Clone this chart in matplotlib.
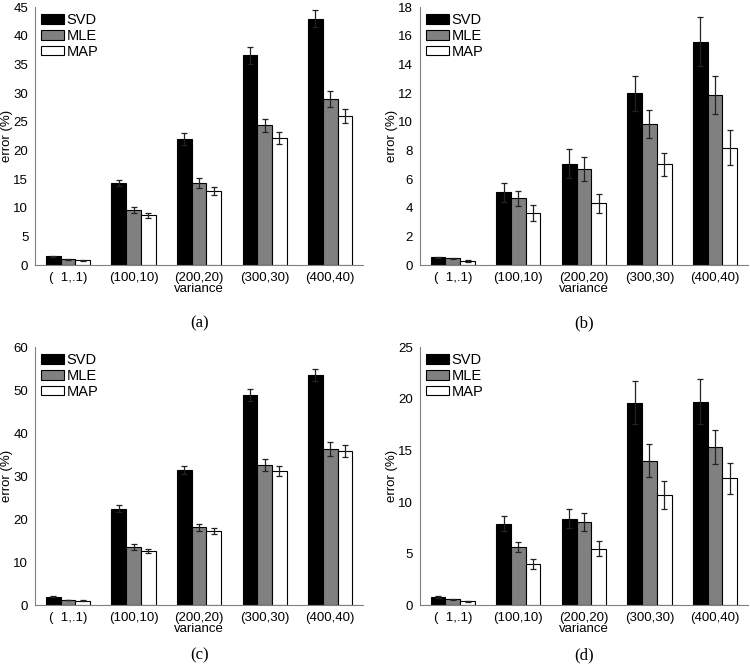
import numpy as np
import matplotlib.pyplot as plt

plt.rcParams['font.family'] = ['Liberation Sans', 'DejaVu Sans']

categories = ['(  1,.1)', '(100,10)', '(200,20)', '(300,30)', '(400,40)']
methods = ['SVD', 'MLE', 'MAP']

# panel (a)
a_svd = [1.57, 14.3, 22.0, 36.6, 43.0]
a_mle = [1.05, 9.6, 14.4, 24.4, 29.0]
a_map = [0.87, 8.7, 12.9, 22.2, 26.0]
a_svd_err = [0.1, 0.5, 1.0, 1.45, 1.45]
a_mle_err = [0.08, 0.55, 0.87, 1.2, 1.4]
a_map_err = [0.06, 0.5, 0.7, 1.05, 1.2]

# panel (b)
b_svd = [0.56, 5.09, 7.09, 12.0, 15.6]
b_mle = [0.49, 4.67, 6.70, 9.86, 11.86]
b_map = [0.30, 3.63, 4.33, 7.05, 8.21]
b_svd_err = [0.05, 0.65, 1.0, 1.22, 1.69]
b_mle_err = [0.04, 0.5, 0.85, 0.97, 1.33]
b_map_err = [0.04, 0.57, 0.68, 0.8, 1.2]

# panel (c)
c_svd = [1.94, 22.5, 31.4, 48.9, 53.6]
c_mle = [1.24, 13.5, 18.1, 32.6, 36.3]
c_map = [1.09, 12.6, 17.2, 31.3, 35.8]
c_svd_err = [0.12, 0.78, 0.93, 1.4, 1.36]
c_mle_err = [0.1, 0.66, 0.74, 1.43, 1.6]
c_map_err = [0.08, 0.5, 0.7, 1.16, 1.4]

# panel (d)
d_svd = [0.81, 7.91, 8.40, 19.64, 19.74]
d_mle = [0.58, 5.62, 8.07, 14.02, 15.34]
d_map = [0.39, 3.97, 5.49, 10.66, 12.3]
d_svd_err = [0.07, 0.74, 0.9, 2.1, 2.18]
d_mle_err = [0.06, 0.5, 0.87, 1.56, 1.65]
d_map_err = [0.05, 0.47, 0.73, 1.36, 1.5]

panels = [
    ('(a)', [a_svd, a_mle, a_map], [a_svd_err, a_mle_err, a_map_err], 45, 5),
    ('(b)', [b_svd, b_mle, b_map], [b_svd_err, b_mle_err, b_map_err], 18, 2),
    ('(c)', [c_svd, c_mle, c_map], [c_svd_err, c_mle_err, c_map_err], 60, 10),
    ('(d)', [d_svd, d_mle, d_map], [d_svd_err, d_mle_err, d_map_err], 25, 5),
]

colors = ['black', '#808080', 'white']
positions = [[0.047, 0.601], [0.56, 0.601], [0.047, 0.0898], [0.56, 0.0898]]
tag_y = [0.514, 0.514, 0.014, 0.014]

fig = plt.figure(figsize=(7.5, 6.65), dpi=100)
x = np.arange(1, len(categories) + 1)
w = 0.225
fs = 9.5

for k, (tag, vals, errs, ymax, step) in enumerate(panels):
    ax = fig.add_axes([positions[k][0], positions[k][1], 0.437, 0.388])
    for i in range(3):
        ax.bar(x + (i - 1) * w, vals[i], w, color=colors[i], edgecolor='black',
               linewidth=0.8, label=methods[i], zorder=2)
        ax.errorbar(x + (i - 1) * w, vals[i], yerr=errs[i], fmt='none',
                    ecolor='#222222', elinewidth=0.9, capsize=2, capthick=0.9, zorder=3)
    ax.set_xlim(0.5, 5.5)
    ax.set_ylim(0, ymax)
    ax.set_yticks(np.arange(0, ymax + 0.1, step))
    ax.set_xticks(x)
    ax.set_xticklabels(categories)
    ax.tick_params(length=0, labelsize=fs, pad=5)
    for s in ['top', 'right']:
        ax.spines[s].set_visible(False)
    for s in ['left', 'bottom']:
        ax.spines[s].set_color('#808080')
    ax.set_ylabel('error (%)', fontsize=fs)
    ax.yaxis.set_label_coords(-0.068, 0.5)
    ax.set_xlabel('variance', fontsize=fs, labelpad=-1)
    ax.legend(loc='upper left', frameon=False, fontsize=10.5, handlelength=1.6,
              handleheight=0.65, handletextpad=0.15, labelspacing=0.12,
              borderaxespad=0.2, borderpad=0.2)
    fig.text(positions[k][0] + 0.437 / 2, tag_y[k], tag, ha='center', va='center',
             fontsize=12, family='Liberation Serif')

fig.savefig('out.png', dpi=100)
